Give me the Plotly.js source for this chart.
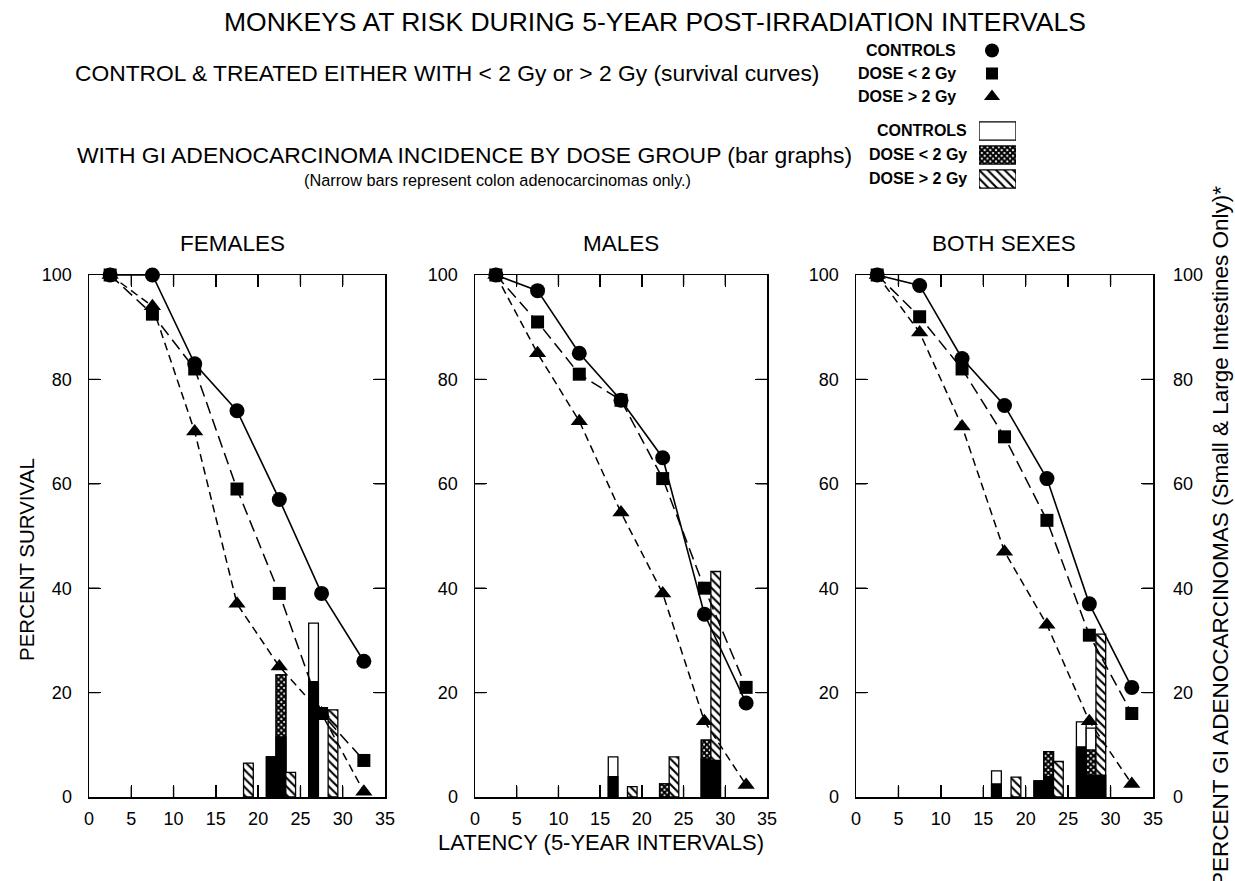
<!DOCTYPE html>
<html><head><meta charset="utf-8">
<script src="https://cdn.plot.ly/plotly-3.0.1.min.js"></script>
<style>html,body{margin:0;padding:0;background:#fff}#chart{width:1235px;height:881px}</style>
</head><body><div id="chart"></div>
<script>
// ---- survival curves (percent surviving, by 5-year interval midpoint) ----
const intervals = [2.5, 7.5, 12.5, 17.5, 22.5, 27.5, 32.5];
const femCtrl  = [100, 100, 83, 74, 57, 39, 26];
const femLow   = [100, 92.5, 82, 59, 39, 16, 7];
const femHigh  = [100, 94, 70, 37, 25, 16, 1];
const maleCtrl = [100, 97, 85, 76, 65, 35, 18];
const maleLow  = [100, 91, 81, 76, 61, 40, 21];
const maleHigh = [100, 85, 72, 54.5, 39, 14.5, 2.3];
const bothCtrl = [100, 98, 84, 75, 61, 37, 21];
const bothLow  = [100, 92, 82, 69, 53, 31, 16];
const bothHigh = [100, 89, 71, 47, 33, 14.5, 2.5];

// ---- GI adenocarcinoma incidence (bar graphs) ----
const barIntervals = [17.5, 22.5, 27.5];
// females
const femCtrlGI = [0, 7.7, 33.3];   const femCtrlColon = [0, 7.7, 22.1];
const femLowAll = [0, 23.4, 0];     const femLowGI = [0, 23.4, 0];   const femLowColon = [0, 11.5, 0];
const femHighGI = [6.5, 4.7, 16.7]; const femHighColon = [0, 0, 0];
// males
const maleCtrlGI = [7.7, 0, 0];      const maleCtrlColon = [3.9, 0, 0];
const maleLowAll = [0, 2.5, 10.9];   const maleLowGI = [0, 2.5, 10.9]; const maleLowColon = [0, 0, 7.3];
const maleHighGI = [2.0, 7.7, 43.2]; const maleHighColon = [0, 0, 7.0];
// both sexes
const bothCtrlGI = [5.0, 3.1, 14.4]; const bothCtrlColon = [2.5, 3.1, 9.6];
const bothLowAll = [0, 8.7, 13.2];   const bothLowGI = [0, 8.7, 9.0];  const bothLowColon = [0, 3.9, 4.2];
const bothHighGI = [3.8, 6.8, 31.2]; const bothHighColon = [0, 0, 4.2];

const legendLabels = ['CONTROLS', 'DOSE < 2 Gy', 'DOSE > 2 Gy'];
const panelTitles = ['FEMALES', 'MALES', 'BOTH SEXES'];
const xTicks = [0, 5, 10, 15, 20, 25, 30, 35];
const yTicks = [0, 20, 40, 60, 80, 100];

// ---- layout helpers ----
const W = 1235, H = 881;
const px = x => x / W;
const py = y => 1 - y / H;
const FONT = 'Liberation Sans, Arial, Helvetica, sans-serif';
const nz = arr => arr.map(v => (v > 0 ? v : null));

const BW = 1.15;
const OFF = { ctrl: -0.95 - BW / 2, low: 0.2 - BW / 2, high: 1.35 - BW / 2 };

const HATCH = { shape: '\\', fgcolor: '#000', bgcolor: '#fff', size: 6, solidity: 0.35 };
const CROSS = { shape: 'x', fgcolor: '#000', bgcolor: '#fff', size: 4, solidity: 0.78 };

function bar(xa, ya, vals, off, color, pattern) {
  const m = { color: color, line: { color: '#000', width: 1.3 } };
  if (pattern) m.pattern = pattern;
  return { type: 'bar', x: barIntervals, y: nz(vals), xaxis: xa, yaxis: ya,
           offset: off, width: BW, marker: m, showlegend: false, hoverinfo: 'skip' };
}
function bars(xa, ya, ctrl, ctrlC, lowAll, low, lowC, high, highC) {
  return [
    bar(xa, ya, ctrl, OFF.ctrl, '#fff'),
    bar(xa, ya, ctrlC, OFF.ctrl, '#000'),
    bar(xa, ya, lowAll, OFF.low, '#fff'),
    bar(xa, ya, low, OFF.low, '#fff', CROSS),
    bar(xa, ya, lowC, OFF.low, '#000'),
    bar(xa, ya, high, OFF.high, '#fff', HATCH),
    bar(xa, ya, highC, OFF.high, '#000')
  ];
}
function curves(xa, ya, c, l, h) {
  const base = { type: 'scatter', mode: 'lines+markers', x: intervals, xaxis: xa, yaxis: ya,
                 cliponaxis: false, showlegend: false, hoverinfo: 'skip' };
  return [
    Object.assign({}, base, { y: h, line: { color: '#000', width: 1.5, dash: '8px,5px' },
      marker: { symbol: 'triangle-up', size: 15, color: '#000' } }),
    Object.assign({}, base, { y: l, line: { color: '#000', width: 1.5, dash: '12px,6px' },
      marker: { symbol: 'square', size: 13, color: '#000' } }),
    Object.assign({}, base, { y: c, line: { color: '#000', width: 1.6 },
      marker: { symbol: 'circle', size: 15, color: '#000' } })
  ];
}

const TOP = 275, BOT = 797;
const panels = [
  { xa: 'x', ya: 'y', l: 89, r: 385 },
  { xa: 'x2', ya: 'y2', l: 475, r: 767 },
  { xa: 'x3', ya: 'y3', l: 856, r: 1153 }
];
const TL = 12;

let data = [];
data = data.concat(bars('x', 'y', femCtrlGI, femCtrlColon, femLowAll, femLowGI, femLowColon, femHighGI, femHighColon));
data = data.concat(bars('x2', 'y2', maleCtrlGI, maleCtrlColon, maleLowAll, maleLowGI, maleLowColon, maleHighGI, maleHighColon));
data = data.concat(bars('x3', 'y3', bothCtrlGI, bothCtrlColon, bothLowAll, bothLowGI, bothLowColon, bothHighGI, bothHighColon));
data = data.concat(curves('x', 'y', femCtrl, femLow, femHigh));
data = data.concat(curves('x2', 'y2', maleCtrl, maleLow, maleHigh));
data = data.concat(curves('x3', 'y3', bothCtrl, bothLow, bothHigh));
// right-hand axis of the last panel
data.push({ type: 'scatter', x: [], y: [], xaxis: 'x3', yaxis: 'y4', showlegend: false, hoverinfo: 'skip' });
// legend swatches: survival symbols
const symList = ['circle', 'square', 'triangle-up'];
const symSize = [14, 12, 14];
legendLabels.forEach((lab, i) => data.push({ type: 'scatter', mode: 'markers', x: [0], y: [lab],
  xaxis: 'x5', yaxis: 'y6', marker: { symbol: symList[i], size: symSize[i], color: '#000' },
  showlegend: false, hoverinfo: 'skip', cliponaxis: false }));
// legend swatches: bar fills
const swFill = [{ color: '#fff' }, { color: '#fff', pattern: CROSS }, { color: '#fff', pattern: HATCH }];
legendLabels.forEach((lab, i) => data.push({ type: 'bar', orientation: 'h', x: [1], y: [lab],
  xaxis: 'x4', yaxis: 'y5', width: 0.76,
  marker: Object.assign({ line: { color: '#000', width: 1.3 } }, swFill[i]),
  showlegend: false, hoverinfo: 'skip' }));

function xax(p) {
  return { domain: [px(p.l), px(p.r)], anchor: p.ya, range: [0, 35], tickvals: xTicks,
    ticks: 'inside', ticklen: TL, tickwidth: 1.4, tickcolor: '#000', mirror: 'ticks',
    showline: true, linecolor: '#000', linewidth: 1.5, showgrid: false, zeroline: false,
    tickfont: { family: FONT, size: 18, color: '#000' }, ticklabelstandoff: 5, fixedrange: true };
}
function yax(p) {
  return { domain: [py(BOT), py(TOP)], anchor: p.xa, range: [0, 100], tickvals: yTicks,
    ticks: 'inside', ticklen: TL, tickwidth: 1.4, tickcolor: '#000', mirror: 'ticks',
    showline: true, linecolor: '#000', linewidth: 1.5, showgrid: false, zeroline: false,
    tickfont: { family: FONT, size: 18, color: '#000' }, ticklabelstandoff: 12, fixedrange: true };
}
const hidden = (o) => Object.assign({ visible: false, fixedrange: true, showgrid: false, zeroline: false }, o);

const ann = [];
// inward tick marks on all four sides of each panel, drawn as head-less arrows at the tick values
panels.forEach(p => {
  const xr = xTicks[xTicks.length - 1], yr = yTicks[yTicks.length - 1];
  const base = { xref: p.xa, yref: p.ya, text: '', showarrow: true, arrowhead: 0,
    arrowwidth: 1.4, arrowcolor: '#000', standoff: 0, startstandoff: 0, font: { size: 1 } };
  xTicks.slice(1, -1).forEach(t => {
    ann.push(Object.assign({}, base, { x: t, y: 0, ax: 0, ay: -TL }));
    ann.push(Object.assign({}, base, { x: t, y: yr, ax: 0, ay: TL }));
  });
  yTicks.slice(1, -1).forEach(t => {
    ann.push(Object.assign({}, base, { x: 0, y: t, ax: TL, ay: 0 }));
    ann.push(Object.assign({}, base, { x: xr, y: t, ax: -TL, ay: 0 }));
  });
});
function txt(t, x, y, size, opts) {
  ann.push(Object.assign({ text: t, x: px(x), y: py(y), xref: 'paper', yref: 'paper',
    showarrow: false, xanchor: 'center', yanchor: 'middle',
    font: { family: FONT, size: size, color: '#000' } }, opts || {}));
}
const esc = s => s.replace('<', '&lt;').replace('>', '&gt;');
txt('MONKEYS AT RISK DURING 5-YEAR POST-IRRADIATION INTERVALS', 655, 22, 26.5);
txt('CONTROL &amp; TREATED EITHER WITH &lt; 2 Gy or &gt; 2 Gy (survival curves)', 447, 73, 22.8);
txt('WITH GI ADENOCARCINOMA INCIDENCE BY DOSE GROUP (bar graphs)', 464, 155, 22.9);
txt('(Narrow bars represent colon adenocarcinomas only.)', 497, 180, 16.3);
const legY1 = [51, 73, 96], legY2 = [131, 155, 179];
legendLabels.forEach((lab, i) => {
  txt('<b>' + esc(lab) + '</b>', 958, legY1[i], 16, { xanchor: 'right' });
  txt('<b>' + esc(lab) + '</b>', 969, legY2[i], 16, { xanchor: 'right' });
});
const panelCx = [232, 621, 1004];
panelTitles.forEach((t, i) => txt(t, panelCx[i], 243, 22.5));
txt('PERCENT SURVIVAL', 26, 560, 20.5, { textangle: -90 });
txt('LATENCY (5-YEAR INTERVALS)', 601, 842, 22);
txt('PERCENT GI ADENOCARCINOMAS (Small &amp; Large Intestines Only)*', 1220, 537, 22.5, { textangle: -90 });

const layout = {
  width: W, height: H, margin: { l: 0, r: 0, t: 0, b: 0 }, autosize: false,
  paper_bgcolor: '#fff', plot_bgcolor: 'rgba(0,0,0,0)', barmode: 'overlay', bargap: 0,
  font: { family: FONT, color: '#000' }, showlegend: false,
  xaxis: xax(panels[0]), yaxis: yax(panels[0]),
  xaxis2: xax(panels[1]), yaxis2: yax(panels[1]),
  xaxis3: xax(panels[2]), yaxis3: yax(panels[2]),
  yaxis4: { overlaying: 'y3', side: 'right', anchor: 'x3', range: [0, 100], tickvals: yTicks,
    ticks: '', showline: false, showgrid: false, zeroline: false, fixedrange: true,
    tickfont: { family: FONT, size: 18, color: '#000' }, ticklabelstandoff: 19 },
  xaxis4: hidden({ domain: [px(979), px(1016)], anchor: 'y5', range: [0, 1] }),
  yaxis5: hidden({ domain: [py(191), py(119)], anchor: 'x4', type: 'category',
    categoryorder: 'array', categoryarray: legendLabels, range: [2.5, -0.5] }),
  xaxis5: hidden({ domain: [px(982), px(1002)], anchor: 'y6', range: [-1, 1] }),
  yaxis6: hidden({ domain: [py(108), py(39)], anchor: 'x5', type: 'category',
    categoryorder: 'array', categoryarray: legendLabels, range: [2.5, -0.5] }),
  annotations: ann
};
Plotly.newPlot('chart', data, layout, { staticPlot: true, displayModeBar: false });
</script></body></html>
